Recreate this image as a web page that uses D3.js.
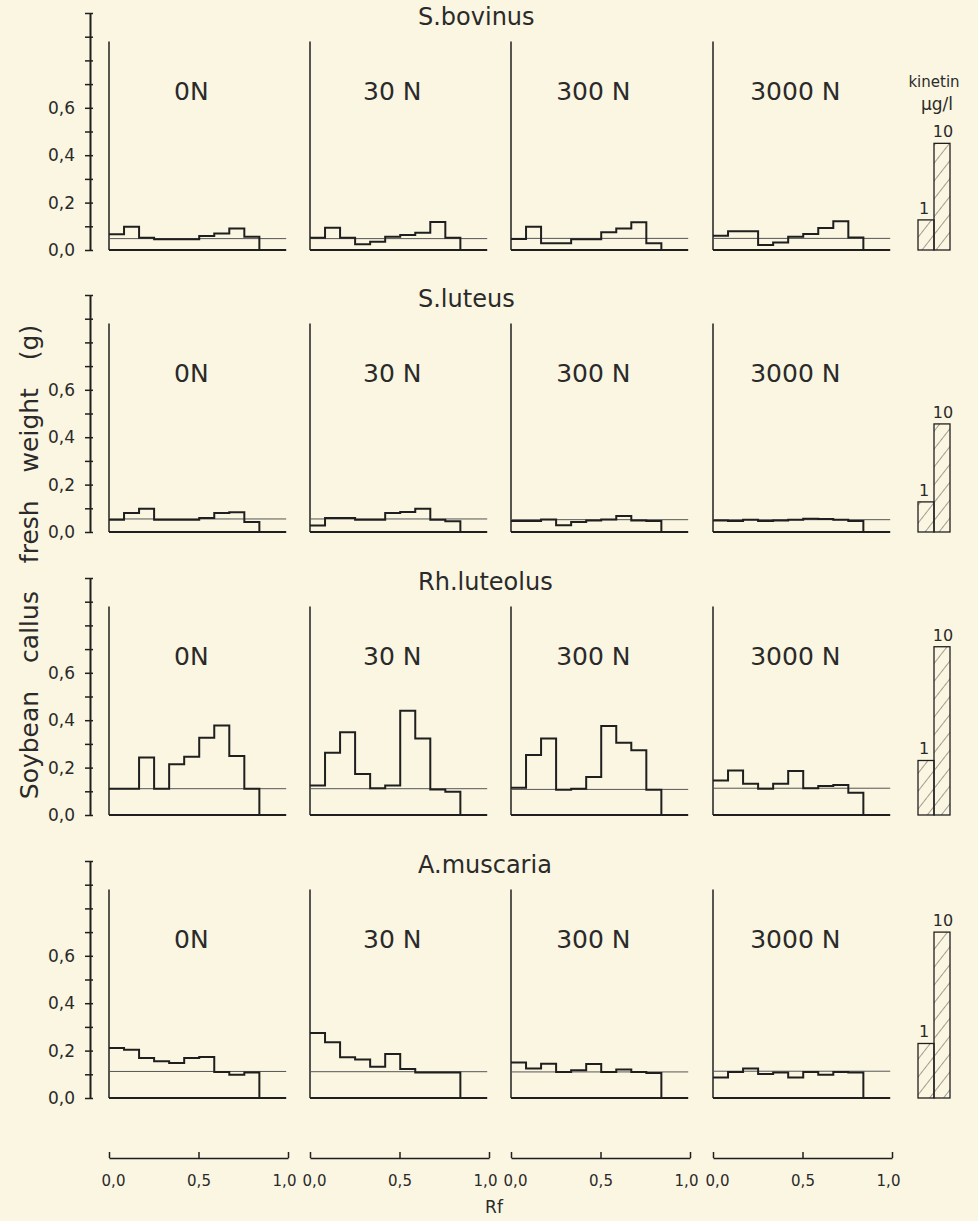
<!DOCTYPE html>
<html>
<head>
<meta charset="utf-8">
<script src="https://cdn.jsdelivr.net/npm/d3@7"></script>
<style>
  html, body { margin: 0; padding: 0; background: #fbf6e1; }
  svg { display: block; }
  text { font-family: "DejaVu Sans", sans-serif; fill: #2a2a2a; }
</style>
</head>
<body>
<div id="chartArea"></div>
<script>
// fungi (rows) and nitrogen levels (columns)
const fungi = ['S.bovinus', 'S.luteus', 'Rh.luteolus', 'A.muscaria'];
const nLevels = ['0N', '30 N', '300 N', '3000 N'];

// callus fresh weight (g) for 10 Rf segments, one array per N level
const bovinus = [
  [0.066, 0.098, 0.052, 0.045, 0.045, 0.045, 0.059, 0.070, 0.091, 0.056],
  [0.052, 0.094, 0.052, 0.024, 0.035, 0.056, 0.063, 0.073, 0.118, 0.052],
  [0.046, 0.098, 0.028, 0.028, 0.045, 0.045, 0.075, 0.091, 0.117, 0.028],
  [0.060, 0.079, 0.079, 0.021, 0.032, 0.056, 0.067, 0.093, 0.121, 0.053]
];
const luteus = [
  [0.052, 0.080, 0.098, 0.052, 0.052, 0.052, 0.059, 0.080, 0.083, 0.042],
  [0.027, 0.059, 0.059, 0.052, 0.052, 0.080, 0.084, 0.098, 0.052, 0.045],
  [0.046, 0.046, 0.053, 0.028, 0.042, 0.049, 0.053, 0.068, 0.049, 0.046],
  [0.049, 0.046, 0.052, 0.046, 0.049, 0.052, 0.056, 0.055, 0.052, 0.046]
];
const luteolus = [
  [0.111, 0.111, 0.243, 0.111, 0.214, 0.246, 0.326, 0.378, 0.249, 0.111],
  [0.125, 0.263, 0.349, 0.173, 0.113, 0.125, 0.440, 0.323, 0.108, 0.098],
  [0.115, 0.253, 0.323, 0.107, 0.111, 0.160, 0.376, 0.305, 0.273, 0.107],
  [0.146, 0.188, 0.132, 0.111, 0.132, 0.186, 0.113, 0.122, 0.127, 0.094]
];
const muscaria = [
  [0.211, 0.204, 0.169, 0.155, 0.148, 0.169, 0.173, 0.110, 0.098, 0.108],
  [0.274, 0.235, 0.172, 0.162, 0.132, 0.186, 0.122, 0.108, 0.108, 0.108],
  [0.150, 0.124, 0.145, 0.110, 0.117, 0.143, 0.110, 0.120, 0.110, 0.105],
  [0.087, 0.110, 0.124, 0.101, 0.108, 0.087, 0.110, 0.098, 0.110, 0.108]
];
// control level (thin line) per row and column
const control = [
  [0.048, 0.048, 0.049, 0.049],
  [0.055, 0.055, 0.052, 0.052],
  [0.111, 0.111, 0.108, 0.113],
  [0.112, 0.111, 0.110, 0.113]
];
// kinetin standards, µg/l
const kinetinLevels = ['1', '10'];
const kinetin1 = [0.127, 0.127, 0.23, 0.23];
const kinetin10 = [0.45, 0.456, 0.71, 0.70];

const yTicks = [0, 0.1, 0.2, 0.3, 0.4, 0.5, 0.6, 0.7, 0.8, 0.9, 1.0];
const yLabels = [0, 0.2, 0.4, 0.6];
const rfTicks = [0, 0.5, 1.0];

const rows = [bovinus, luteus, luteolus, muscaria];

const drawGraph = () => {
  const width = 978;
  const height = 1221;
  const ink = '#1f1f1f';
  const binWidth = 0.084;
  const rowBase = [250, 532, 815, 1098];
  const rowUnit = 237;
  const panelLeft = [109, 310, 511, 713];
  const panelW = 179;

  const fmt = d3.formatLocale({ decimal: ',', thousands: '.', grouping: [3], currency: ['', ''] }).format('.1f');

  const svg = d3.select('#chartArea').append('svg')
    .attr('width', width)
    .attr('height', height);

  // hatch pattern for kinetin bars
  svg.append('defs').append('pattern')
    .attr('id', 'hatch')
    .attr('patternUnits', 'userSpaceOnUse')
    .attr('width', 11)
    .attr('height', 11)
    .attr('patternTransform', 'rotate(38)')
    .append('line')
    .attr('x1', 0).attr('y1', 0).attr('x2', 0).attr('y2', 11)
    .attr('stroke', '#444')
    .attr('stroke-width', 1);

  const kx = d3.scaleBand().domain(kinetinLevels).range([918, 950]).padding(0);

  rows.forEach((rowData, r) => {
    const y = d3.scaleLinear().domain([0, 1]).range([rowBase[r], rowBase[r] - rowUnit]);

    // row title
    svg.append('text')
      .attr('x', 418)
      .attr('y', y(0.95))
      .style('font-size', '24px')
      .text(fungi[r]);

    // y axis
    const yAxis = svg.append('g')
      .attr('transform', 'translate(90,0)')
      .call(d3.axisLeft(y).tickValues(yTicks).tickSizeOuter(0).tickPadding(9)
        .tickFormat((d) => (yLabels.some((v) => Math.abs(v - d) < 1e-6) ? fmt(d) : '')));
    yAxis.select('.domain').attr('stroke', ink).attr('stroke-width', 2);
    yAxis.selectAll('.tick line').attr('x1', 3).attr('x2', -5).attr('stroke', ink).attr('stroke-width', 1.5);
    yAxis.selectAll('.tick text')
      .style('font-size', '17px')
      .style('font-family', '"DejaVu Sans", sans-serif')
      .attr('fill', '#333');

    rowData.forEach((vals, c) => {
      const x = d3.scaleLinear().domain([0, 1]).range([panelLeft[c], panelLeft[c] + panelW]);
      const g = svg.append('g');

      // vertical panel line
      g.append('line')
        .attr('x1', x(0)).attr('x2', x(0))
        .attr('y1', y(0)).attr('y2', y(0.88))
        .attr('stroke', ink).attr('stroke-width', 1.5);

      // baseline
      g.append('line')
        .attr('x1', x(0)).attr('x2', x(0.99))
        .attr('y1', y(0)).attr('y2', y(0))
        .attr('stroke', ink).attr('stroke-width', 2.2);

      // control level
      g.append('line')
        .attr('x1', x(0)).attr('x2', x(0.99))
        .attr('y1', y(control[r][c])).attr('y2', y(control[r][c]))
        .attr('stroke', '#555').attr('stroke-width', 1);

      // histogram
      const pts = vals.map((v, i) => [i * binWidth, v]);
      pts.push([vals.length * binWidth, 0]);
      g.append('path')
        .datum(pts)
        .attr('fill', 'none')
        .attr('stroke', ink)
        .attr('stroke-width', 2)
        .attr('d', d3.line().x((d) => x(d[0])).y((d) => y(d[1])).curve(d3.curveStepAfter));

      // N level label
      g.append('text')
        .attr('x', x(0.46))
        .attr('y', y(0.633))
        .attr('text-anchor', 'middle')
        .style('font-size', '25px')
        .text(nLevels[c]);

      // Rf axis under the last row
      if (r === rows.length - 1) {
        const xAxis = svg.append('g')
          .attr('transform', 'translate(0,1158)')
          .call(d3.axisBottom(x).tickValues(rfTicks).tickSizeInner(-6).tickSizeOuter(0).tickPadding(17)
            .tickFormat(fmt));
        xAxis.select('.domain').attr('stroke', ink).attr('stroke-width', 1.5);
        xAxis.selectAll('.tick line').attr('stroke', ink).attr('stroke-width', 1.5);
        xAxis.selectAll('.tick text')
          .style('font-size', '15px')
          .style('font-family', '"DejaVu Sans", sans-serif')
          .attr('dx', (d) => (d === 0 ? 4 : d === 1 ? -4 : 0))
          .attr('fill', '#333');
      }
    });

    // kinetin standards
    const kVals = [kinetin1[r], kinetin10[r]];
    svg.append('g').selectAll('rect')
      .data(kinetinLevels)
      .enter()
      .append('rect')
      .attr('x', (d) => kx(d))
      .attr('y', (d, i) => y(kVals[i]))
      .attr('width', kx.bandwidth())
      .attr('height', (d, i) => y(0) - y(kVals[i]))
      .attr('fill', 'url(#hatch)')
      .attr('stroke', ink)
      .attr('stroke-width', 1.3);
    svg.append('g').selectAll('text')
      .data(kinetinLevels)
      .enter()
      .append('text')
      .attr('x', (d) => kx(d) + kx.bandwidth() / 2 + (d === '1' ? -2 : 1))
      .attr('y', (d, i) => y(kVals[i]) - 6)
      .attr('text-anchor', 'middle')
      .style('font-size', '16px')
      .attr('fill', '#333')
      .text((d) => d);
  });

  // kinetin legend header
  svg.append('text').attr('x', 934).attr('y', 87).attr('text-anchor', 'middle')
    .style('font-size', '15px').attr('fill', '#444').text('kinetin');
  svg.append('text').attr('x', 937).attr('y', 110).attr('text-anchor', 'middle')
    .style('font-size', '17px').attr('fill', '#444').text('μg/l');

  // y axis title
  svg.append('text')
    .attr('transform', 'translate(38,562) rotate(-90)')
    .attr('text-anchor', 'middle')
    .style('font-size', '25px')
    .style('word-spacing', '20px')
    .text('Soybean callus fresh weight (g)');

  // x axis title
  svg.append('text')
    .attr('x', 494)
    .attr('y', 1213)
    .attr('text-anchor', 'middle')
    .style('font-size', '17px')
    .attr('fill', '#333')
    .text('Rf');
};

drawGraph();
</script>
</body>
</html>
